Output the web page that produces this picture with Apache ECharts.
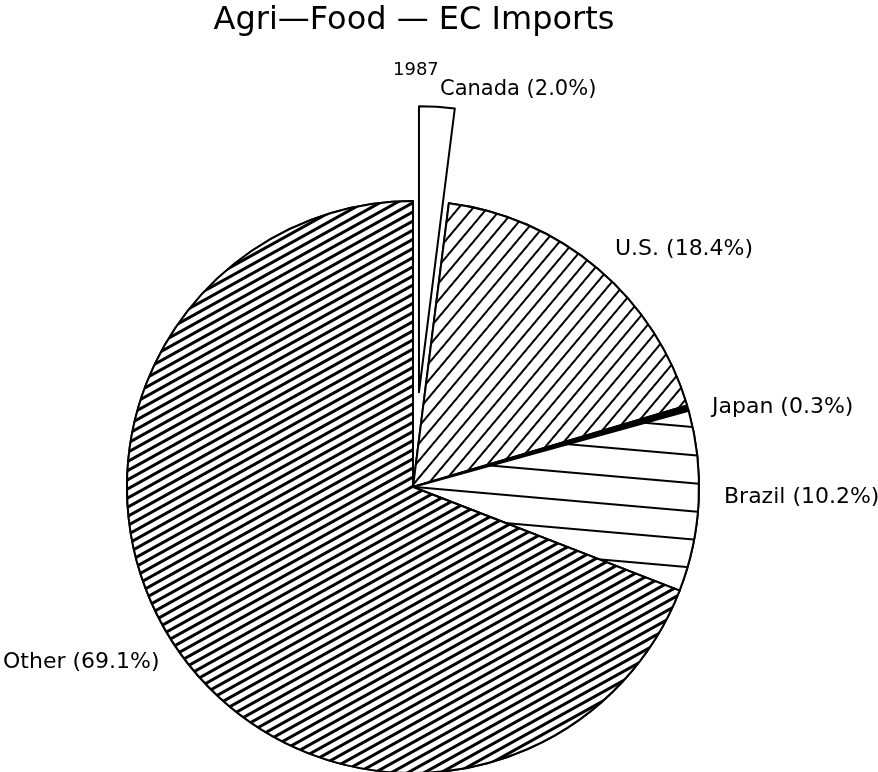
<!DOCTYPE html>
<html>
<head>
<meta charset="utf-8">
<script src="https://cdn.jsdelivr.net/npm/echarts@6/dist/echarts.min.js"></script>
<style>
html,body{margin:0;padding:0;background:#fff;}
#chart{width:878px;height:772px;}
</style>
</head>
<body>
<div id="chart"></div>
<script>
// Data
var categories = ['Canada', 'U.S.', 'Japan', 'Brazil', 'Other'];
var shares = [2.0, 18.4, 0.3, 10.2, 69.1];
var titleText = 'Agri\u2014Food \u2014 EC Imports';
var yearText = '1987';

// Styling (kept separate from data)
var labelPos = [[440, 88], [615, 249], [712, 407], [724, 497], [3, 662]];
var FONT = 'DejaVu Sans';
function hatch(deg, line, gap) {
  return {
    symbol: 'rect', symbolSize: 1,
    dashArrayX: [1, 0], dashArrayY: [line, gap],
    rotation: -deg * Math.PI / 180,
    color: '#000', backgroundColor: '#fff'
  };
}
var decals = [
  null,
  hatch(50, 2, 9),
  null,
  hatch(-5, 2, 26),
  hatch(29, 3, 5)
];
var fills = ['#fff', '#fff', '#000', '#fff', '#fff'];
var labelSizes = [21, 22, 22, 22, 22];
function fmt(i) { return categories[i] + ' (' + shares[i].toFixed(1) + '%)'; }

var data = categories.map(function (c, i) {
  var item = {
    name: c,
    value: shares[i],
    itemStyle: { color: fills[i], borderColor: '#000', borderWidth: 2 },
    label: { fontSize: labelSizes[i] }
  };
  if (decals[i]) item.itemStyle.decal = decals[i];
  if (i === 0) {
    item.selected = true;
    item.label.show = false;
  }
  return item;
});

var chart = echarts.init(document.getElementById('chart'));
chart.setOption({
  animation: false,
  backgroundColor: '#fff',
  title: [
    { text: titleText, left: 409, top: 0, textAlign: 'center',
      textStyle: { fontFamily: FONT, fontWeight: 'normal', fontSize: 32, color: '#000' } },
    { text: yearText, left: 388, top: 56,
      textStyle: { fontFamily: FONT, fontWeight: 'normal', fontSize: 18, color: '#000' } }
  ],
  graphic: [{
    type: 'text', left: labelPos[0][0], top: labelPos[0][1] - 9,
    style: { text: fmt(0), font: labelSizes[0] + 'px "' + FONT + '"', fill: '#000' }
  }],
  series: [{
    type: 'pie',
    center: [413, 487],
    radius: 286,
    startAngle: 90,
    clockwise: true,
    selectedMode: 'single',
    selectedOffset: 95,
    emphasis: { disabled: true },
    label: {
      show: true,
      position: 'outside',
      fontFamily: FONT,
      fontSize: 22,
      color: '#000',
      overflow: 'none',
      width: 200,
      formatter: function (p) { return fmt(p.dataIndex); }
    },
    labelLine: { show: false },
    labelLayout: function (params) {
      var pos = labelPos[params.dataIndex];
      return { x: pos[0], y: pos[1], align: 'left', verticalAlign: 'middle' };
    },
    data: data
  }]
});
</script>
</body>
</html>
